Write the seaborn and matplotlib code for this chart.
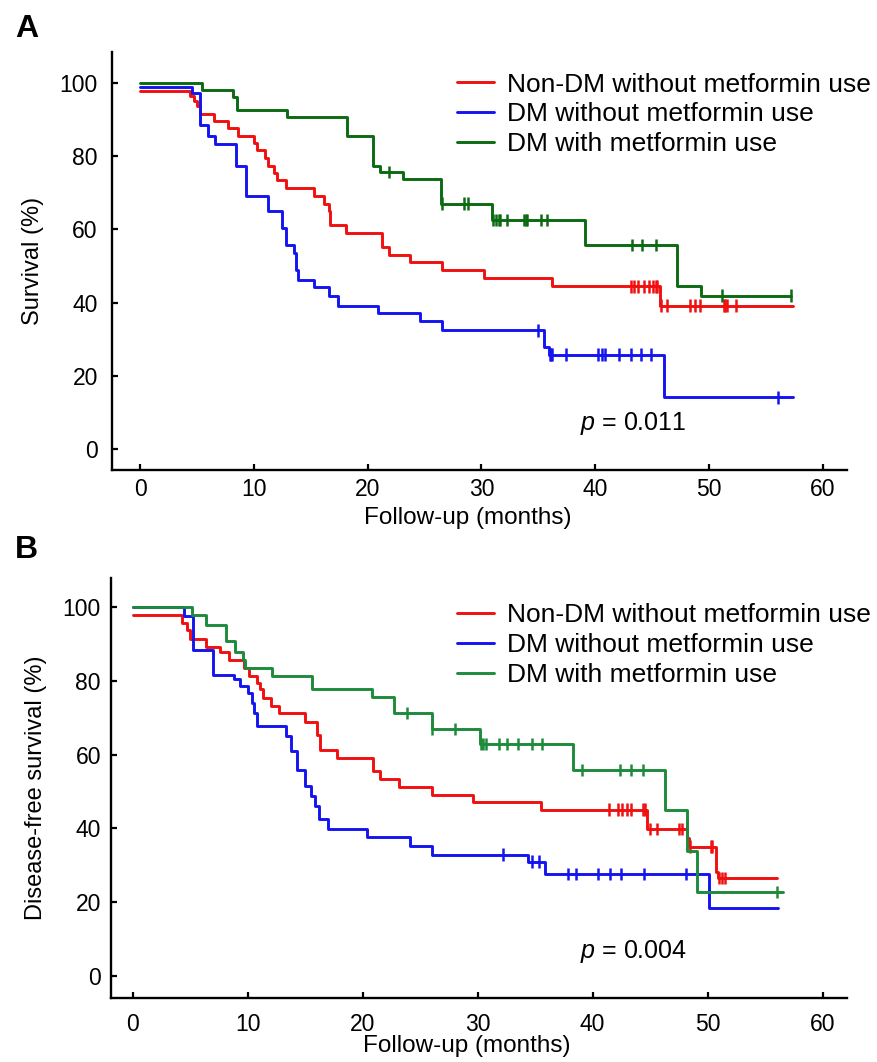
import numpy as np
import pandas as pd
import seaborn as sns
import matplotlib.pyplot as plt

# ---- panel A: overall survival (step times in months, survival % after each step)
red_a_t = [0, 4.4, 4.7, 5.0, 5.3, 6.5, 7.7, 8.6, 10.0, 10.3, 11.0, 11.2, 11.8, 12.0, 12.8,
           15.3, 16.2, 16.6, 16.7, 18.1, 21.3, 21.9, 23.7, 26.5, 30.2, 36.2, 45.7, 57.4]
red_a_s = [97.7, 96.3, 95.0, 93.6, 91.6, 89.7, 87.7, 85.4, 83.6, 81.6, 79.5, 77.4, 75.4, 73.4, 71.3,
           69.2, 66.8, 64.9, 61.3, 59.0, 55.2, 53.1, 51.0, 48.8, 46.7, 44.4, 39.2, 39.2]
red_a_c = [43.1, 43.4, 43.8, 44.3, 44.7, 45.1, 45.3, 45.4, 45.8, 46.3, 48.3, 48.8, 49.2,
           51.3, 51.4, 51.6, 52.4]

blue_a_t = [0, 4.6, 5.3, 6.0, 6.6, 8.4, 9.3, 11.2, 12.5, 12.8, 13.5, 13.7, 13.9, 15.3, 16.6,
            17.4, 20.9, 24.6, 26.5, 35.5, 35.9, 46.0, 57.4]
blue_a_s = [98.8, 97.3, 88.6, 85.6, 83.4, 77.4, 69.0, 64.9, 60.4, 55.8, 53.6, 49.0, 46.3, 44.2, 41.9,
            39.2, 37.2, 34.9, 32.4, 27.9, 25.8, 14.1, 14.1]
blue_a_c = [35.0, 36.0, 36.1, 36.2, 37.4, 40.2, 40.6, 40.9, 42.1, 43.1, 44.0, 44.9, 56.1]

green_a_t = [0, 5.4, 8.2, 8.5, 12.9, 18.2, 20.5, 21.1, 23.1, 26.4, 30.9, 39.1, 47.2, 49.3, 57.2]
green_a_s = [100, 98.0, 96.0, 92.7, 90.6, 85.4, 77.4, 75.6, 73.8, 67.0, 62.6, 55.8, 44.4, 41.9, 41.9]
green_a_c = [21.9, 26.5, 28.5, 28.8, 31.0, 31.3, 31.5, 31.6, 32.2, 33.7, 33.9, 34.0, 35.2, 35.8,
             43.2, 44.1, 45.3, 51.1, 57.2]

# ---- panel B: disease-free survival
red_b_t = [0, 4.3, 4.7, 5.0, 6.4, 7.6, 8.4, 9.7, 10.1, 10.8, 11.1, 11.3, 12.0, 12.7, 15.0, 16.0,
           16.3, 17.8, 20.9, 21.5, 23.2, 26.0, 29.6, 35.5, 44.7, 48.2, 48.4, 50.7, 50.9, 56.0]
red_b_s = [98.0, 95.9, 93.9, 91.4, 89.4, 87.8, 85.8, 83.5, 81.3, 79.5, 77.8, 75.4, 73.3, 71.3, 69.0, 65.4,
           61.4, 59.1, 55.5, 53.4, 51.2, 49.1, 47.2, 45.1, 39.8, 37.4, 35.1, 28.3, 26.5, 26.5]
red_b_c = [41.4, 42.2, 42.6, 43.0, 43.3, 44.4, 44.6, 45.0, 45.6, 47.5, 47.8, 48.5, 50.3, 50.4,
           51.0, 51.3, 51.5]

blue_b_t = [0, 4.5, 5.3, 7.0, 8.8, 9.3, 10.0, 10.4, 10.6, 10.8, 13.3, 13.8, 14.3, 15.0, 15.5, 15.9,
            16.2, 17.0, 20.4, 24.1, 26.0, 34.4, 35.9, 50.1, 56.1]
blue_b_s = [100, 97.6, 88.5, 81.7, 80.5, 78.7, 76.8, 74.2, 71.3, 67.7, 65.2, 60.9, 55.9, 51.4, 48.9, 46.0,
            42.5, 39.8, 37.7, 35.3, 32.9, 31.0, 27.7, 18.4, 18.4]
blue_b_c = [32.2, 34.7, 35.3, 37.9, 38.6, 40.5, 41.5, 42.5, 44.5, 48.1]

green_b_t = [0, 5.2, 6.4, 8.1, 8.9, 9.6, 9.8, 12.1, 15.6, 20.8, 22.7, 26.0, 30.2, 38.3, 46.3, 48.2, 49.1, 56.6]
green_b_s = [100, 98.0, 95.3, 90.8, 87.8, 85.8, 83.5, 81.3, 77.8, 75.7, 71.3, 67.0, 63.0, 55.9, 45.1,
             34.0, 22.7, 22.7]
green_b_c = [23.9, 26.0, 28.0, 30.3, 30.5, 30.7, 31.9, 32.6, 33.5, 34.7, 35.6, 39.1, 42.4, 43.3, 44.4,
             50.1, 56.0]

groups = ["Non-DM without metformin use", "DM without metformin use", "DM with metformin use"]
p_values = ["0.011", "0.004"]
ylabels = ["Survival (%)", "Disease-free survival (%)"]

sns.set_style("ticks")
plt.rcParams['font.family'] = ['Liberation Sans', 'DejaVu Sans']
plt.rcParams['mathtext.fontset'] = 'custom'
plt.rcParams['mathtext.it'] = 'Liberation Sans:italic'
plt.rcParams['mathtext.rm'] = 'Liberation Sans'
for key in ['text.color', 'axes.labelcolor', 'xtick.color', 'ytick.color', 'axes.edgecolor']:
    plt.rcParams[key] = 'black'


def long_df(curves):
    rows = []
    for name, (t, s, c) in zip(groups, curves):
        rows.append(pd.DataFrame({'month': t, 'surv': s, 'group': name}))
    return pd.concat(rows, ignore_index=True)


def censor_df(curves):
    # censor ticks sit on the curve level at the censoring time
    rows = []
    for name, (t, s, c) in zip(groups, curves):
        idx = np.searchsorted(t, c, side='right') - 1
        rows.append(pd.DataFrame({'month': c, 'surv': np.array(s)[idx], 'group': name}))
    return pd.concat(rows, ignore_index=True)


panels = [
    dict(curves=[(red_a_t, red_a_s, red_a_c), (blue_a_t, blue_a_s, blue_a_c), (green_a_t, green_a_s, green_a_c)],
         colors=['#f01010', '#1414f0', '#0b6a12'],
         rect=[111.7 / 878, 1 - 470 / 1062, 735 / 878, 418.3 / 1062],
         xlim=(-2.5, 62.1), ylim=(-5.7, 108.5), ptxt=(38.7, 7.1),
         leg=(0.470, 0.950), xpad=5.5, ypad=10, letter='A', letter_y=37),
    dict(curves=[(red_b_t, red_b_s, red_b_c), (blue_b_t, blue_b_s, blue_b_c), (green_b_t, green_b_s, green_b_c)],
         colors=['#f01010', '#1414f0', '#1e8a3c'],
         rect=[110.7 / 878, 1 - 998.3 / 1062, 736 / 878, 420.3 / 1062],
         xlim=(-1.9, 62.1), ylim=(-6.1, 108), ptxt=(38.9, 6.6),
         leg=(0.470, 0.940), xpad=10.5, ypad=7, letter='B', letter_y=558),
]

fig = plt.figure(figsize=(8.78, 10.62), dpi=100)

for i, p in enumerate(panels):
    ax = fig.add_axes(p['rect'])
    pal = dict(zip(groups, p['colors']))
    df = long_df(p['curves'])
    cdf = censor_df(p['curves'])
    sns.lineplot(data=df, x='month', y='surv', hue='group', palette=pal, drawstyle='steps-post',
                 estimator=None, sort=False, lw=2.1, ax=ax)
    sns.scatterplot(data=cdf, x='month', y='surv', hue='group', palette=pal, marker='|',
                    s=80, linewidth=1.8, legend=False, ax=ax)

    ax.set_xlim(p['xlim'])
    ax.set_ylim(p['ylim'])
    ax.set_xticks(range(0, 61, 10))
    ax.set_yticks(range(0, 101, 20))
    ax.tick_params(direction='in', length=4, width=1.6, labelsize=16.5)
    ax.tick_params(axis='x', pad=p['xpad'])
    ax.tick_params(axis='y', pad=p['ypad'])
    for side in ['top', 'right']:
        ax.spines[side].set_visible(False)
    for side in ['left', 'bottom']:
        ax.spines[side].set_linewidth(1.7)
    ax.set_xlabel("Follow-up (months)", fontsize=17.5, labelpad=7)
    ax.xaxis.set_label_coords(0.484, -0.088)
    ax.set_ylabel(ylabels[i], fontsize=17, labelpad=11)

    handles, labels = ax.get_legend_handles_labels()
    ax.legend(handles, labels, loc='upper left', bbox_to_anchor=p['leg'], frameon=False,
              fontsize=19, handlelength=1.4, handletextpad=0.5, labelspacing=0.22,
              borderpad=0, borderaxespad=0)

    ax.text(p['ptxt'][0], p['ptxt'][1], r"$p$ = " + p_values[i], fontsize=18,
            ha='left', va='center')
    fig.text(15 / 878, 1 - p['letter_y'] / 1062, p['letter'], fontsize=23, fontweight='bold',
             ha='left', va='baseline')

fig.savefig("out.png", dpi=100)
